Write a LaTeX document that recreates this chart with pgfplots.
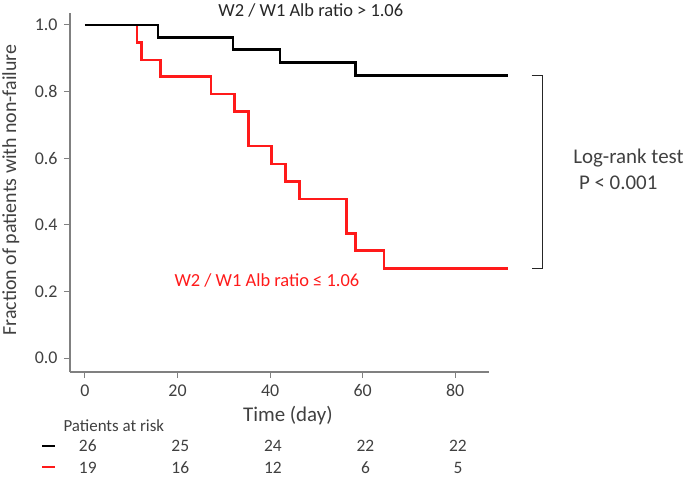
\documentclass[border=0pt]{standalone}
\usepackage{fontspec}
\setmainfont{Carlito}
\usepackage{pgfplots}
\pgfplotsset{compat=1.18}
\definecolor{txt}{HTML}{404040}
\definecolor{axgray}{HTML}{808080}
\definecolor{kmred}{HTML}{FF1A1A}
\begin{document}
\begin{tikzpicture}
\useasboundingbox (-70bp,-105bp) rectangle (615bp,372bp);
\begin{axis}[
  scale only axis, width=419bp, height=359bp,
  xmin=-3.24, xmax=87.3, ymin=-0.042, ymax=1.036,
  axis x line*=bottom, axis y line*=left,
  axis line style={axgray, line width=1.2bp},
  clip=false,
  xtick={0,20,40,60,80}, ytick={0,0.2,0.4,0.6,0.8,1.0},
  tick align=outside, major tick length=6bp,
  tick style={axgray, line width=1bp},
  yticklabel style={xshift=-3bp, /pgf/number format/.cd, fixed, fixed zerofill, precision=1},
  /pgf/number format/assume math mode=true,
  ticklabel style={font=\fontsize{18}{20}\selectfont, text=txt},
  xticklabel style={yshift=-3bp},
  xlabel={Time (day)},
  xlabel style={at={(axis description cs:0.520,-0.1226)}, anchor=center, font=\fontsize{21}{24}\selectfont, text=txt},
  ylabel={Fraction of patients with non-failure},
  ylabel style={at={(axis description cs:-0.141,0.507)}, anchor=center, font=\fontsize{20}{24}\selectfont, text=txt},
]
% red group (W2/W1 Alb ratio <= 1.06)
\addplot[const plot mark left, kmred, line width=2.6bp] coordinates {
(0,1) (11.2,0.947) (12.2,0.895) (16.3,0.845) (27.2,0.793) (32.3,0.741)
(35.3,0.637) (40.3,0.583) (43.3,0.530) (46.3,0.478) (56.5,0.373)
(58.5,0.322) (64.6,0.269) (91.4,0.269)};
% black group (W2/W1 Alb ratio > 1.06)
\addplot[const plot mark left, black, line width=2.6bp] coordinates {
(0,1) (15.8,0.963) (32.0,0.926) (42.1,0.887) (58.4,0.848) (91.4,0.848)};
% legend dashes of the at-risk table
\addplot[black, line width=2.5bp] coordinates {(-9.29,-0.264) (-6.48,-0.264)};
\addplot[kmred, line width=2.5bp] coordinates {(-9.29,-0.327) (-6.48,-0.327)};
% patients at risk
\addplot[only marks, mark=*, mark size=0pt, mark options={draw=none, fill=none}, nodes near coords, point meta=explicit symbolic,
  every node near coord/.append style={anchor=center, font=\fontsize{17.5}{20}\selectfont, text=txt}]
  table[meta=n] {
x y n
0.6 -0.264 26
0.6 -0.330 19
20.6 -0.264 25
20.6 -0.330 16
40.6 -0.264 24
40.6 -0.330 12
60.6 -0.264 22
60.6 -0.330 6
80.6 -0.264 22
80.6 -0.330 5
};
\node[anchor=west, font=\fontsize{17}{20}\selectfont, text=txt] at (axis cs:-5.4,-0.204) {Patients at risk};
% annotations
\node[font=\fontsize{18.5}{22}\selectfont, text=black!85] at (axis cs:48.8,1.045) {W2 / W1 Alb ratio > 1.06};
\node[font=\fontsize{18.5}{22}\selectfont, text=kmred] at (axis cs:39.3,0.234) {W2 / W1 Alb ratio ≤ 1.06};
\draw[black!85, line width=1.5bp] (axis cs:96.5,0.848) -- (axis cs:98.9,0.848) -- (axis cs:98.9,0.269) -- (axis cs:96.5,0.269);
\node[anchor=west, font=\fontsize{21}{24}\selectfont, text=txt] at (axis cs:104.75,0.6006) {Log-rank test};
\node[anchor=west, font=\fontsize{21}{24}\selectfont, text=txt] at (axis cs:106.0,0.5255) {P < 0.001};
\end{axis}
\end{tikzpicture}
\end{document}
